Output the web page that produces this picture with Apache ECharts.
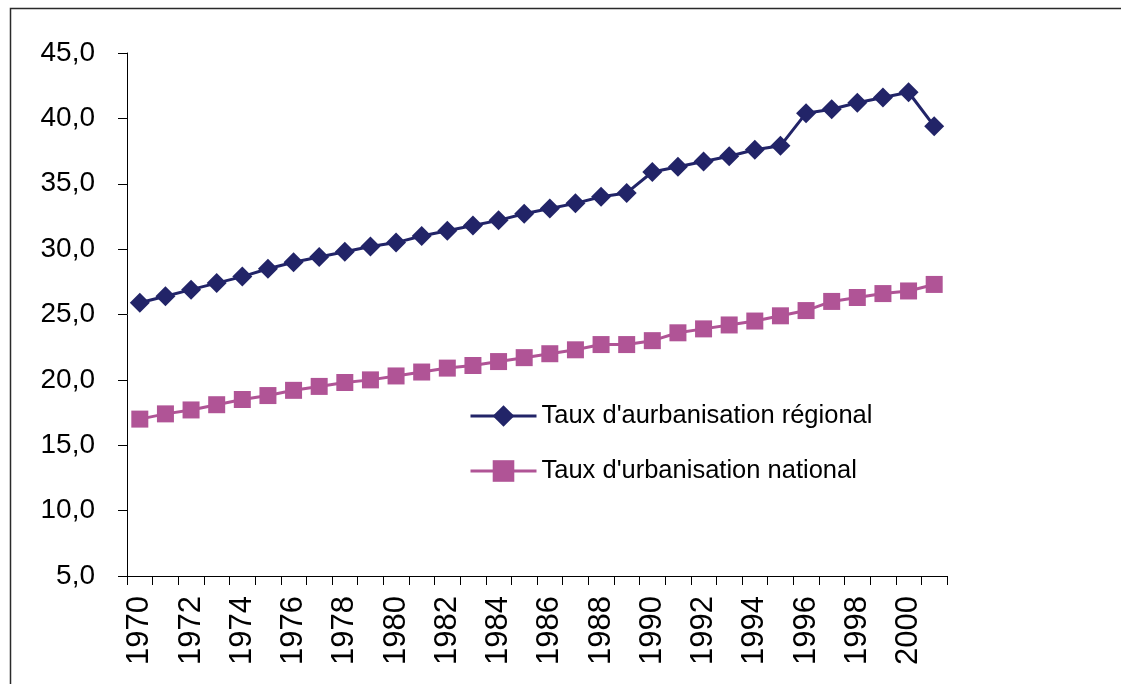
<!DOCTYPE html>
<html>
<head>
<meta charset="utf-8">
<title>Taux d'urbanisation 1970-2001</title>
<script src="https://cdn.jsdelivr.net/npm/echarts@6/dist/echarts.min.js"></script>
<style>
  html, body { margin: 0; padding: 0; background: #ffffff; }
  #chart { width: 1121px; height: 684px; }
</style>
</head>
<body>
<div id="chart"></div>
<script>
// Years on the category axis
const years = ['1970','1971','1972','1973','1974','1975','1976','1977','1978','1979',
  '1980','1981','1982','1983','1984','1985','1986','1987','1988','1989',
  '1990','1991','1992','1993','1994','1995','1996','1997','1998','1999',
  '2000','2001'];

// Regional urbanisation rate (%)
const regional = [25.9, 26.4, 26.9, 27.4, 27.9, 28.5, 29.0, 29.4, 29.8, 30.2,
  30.5, 31.0, 31.4, 31.8, 32.2, 32.7, 33.1, 33.5, 34.0, 34.3,
  35.9, 36.3, 36.7, 37.1, 37.6, 37.9, 40.4, 40.7, 41.2, 41.6,
  42.0, 39.4];

// National urbanisation rate (%)
const national = [17.0, 17.4, 17.7, 18.1, 18.5, 18.8, 19.2, 19.5, 19.8, 20.0,
  20.3, 20.6, 20.9, 21.1, 21.4, 21.7, 22.0, 22.3, 22.7, 22.7,
  23.0, 23.6, 23.9, 24.2, 24.5, 24.9, 25.3, 26.0, 26.3, 26.6,
  26.8, 27.3];

const seriesNames = ["Taux d'aurbanisation régional", "Taux d'urbanisation national"];

const FONT = '"Liberation Sans", Arial, sans-serif';
const NAVY = '#222468';
const PLUM = '#b05496';

const chart = echarts.init(document.getElementById('chart'), null, { renderer: 'canvas' });

chart.setOption({
  backgroundColor: '#ffffff',
  animation: false,
  graphic: [{
    type: 'rect',
    left: 8, top: 6,
    shape: { width: 1200, height: 800 },
    style: { fill: 'none', stroke: '#2a2a2a', lineWidth: 1.5 },
    silent: true,
    z: -1
  }],
  grid: { left: 127, right: 174, top: 53, bottom: 108, containLabel: false },
  legend: {
    orient: 'vertical',
    left: 464,
    top: 398,
    itemWidth: 66,
    itemHeight: 27,
    itemGap: 29,
    lineStyle: { width: 3 },
    textStyle: { fontFamily: FONT, fontSize: 25.5, color: '#000000', padding: [0, 0, 0, 0] },
    data: seriesNames
  },
  xAxis: {
    type: 'category',
    data: years,
    boundaryGap: true,
    axisLine: { lineStyle: { color: '#000000', width: 1 } },
    axisTick: { show: true, interval: 0, length: 9, inside: false, lineStyle: { color: '#000000' } },
    axisLabel: {
      interval: 1,
      rotate: 90,
      margin: 20,
      fontFamily: FONT,
      fontSize: 31,
      color: '#000000'
    },
    splitLine: { show: false }
  },
  yAxis: {
    type: 'value',
    min: 5,
    max: 45,
    interval: 5,
    axisLine: { show: true, lineStyle: { color: '#000000', width: 1 } },
    axisTick: { show: true, length: 9, lineStyle: { color: '#000000' } },
    axisLabel: {
      margin: 32,
      fontFamily: FONT,
      fontSize: 28,
      color: '#000000',
      formatter: v => v.toFixed(1).replace('.', ',')
    },
    splitLine: { show: false }
  },
  series: [
    {
      name: seriesNames[0],
      type: 'line',
      data: regional,
      symbol: 'diamond',
      symbolSize: 20,
      showAllSymbol: true,
      itemStyle: { color: NAVY },
      lineStyle: { color: NAVY, width: 3 },
      z: 3
    },
    {
      name: seriesNames[1],
      type: 'line',
      data: national,
      symbol: 'rect',
      symbolSize: 17,
      showAllSymbol: true,
      itemStyle: { color: PLUM },
      lineStyle: { color: PLUM, width: 3 },
      z: 2
    }
  ]
});
</script>
</body>
</html>
